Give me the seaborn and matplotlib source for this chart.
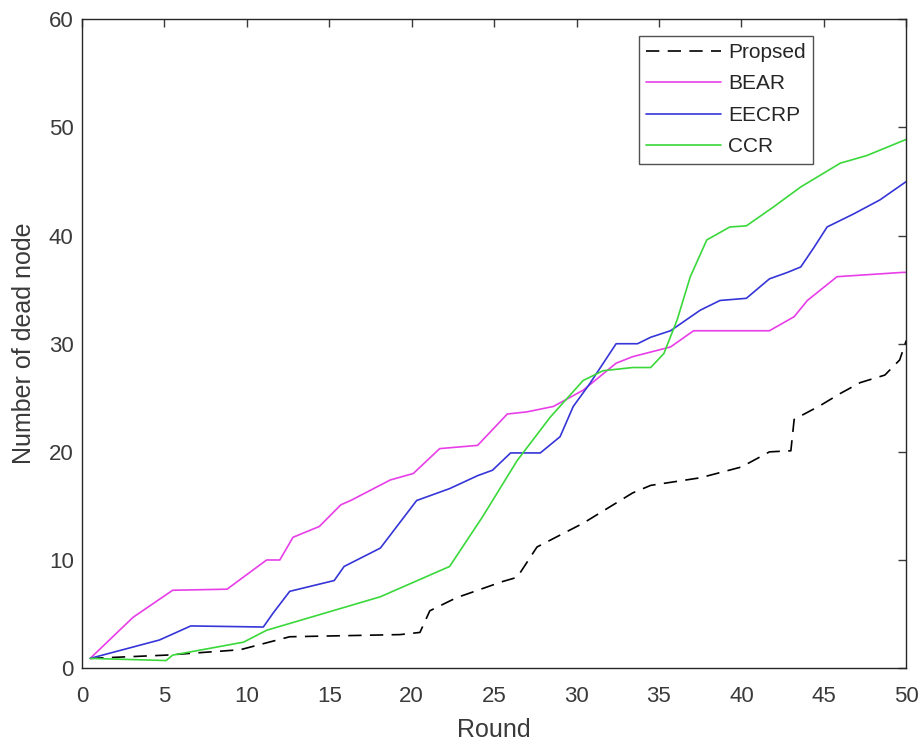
import matplotlib
matplotlib.use("Agg")
import matplotlib.pyplot as plt
import seaborn as sns

# Data
proposed_x = [0.5, 5.1, 9.6, 12.6, 19.3, 20.5, 21.1, 22.7, 25.5, 26.4, 27.6, 30.4, 33.4, 34.5,
              37.5, 40.0, 41.7, 43.0, 43.2, 44.8, 46.0, 47.2, 48.7, 49.6, 50.0]
proposed_y = [0.9, 1.2, 1.7, 2.9, 3.1, 3.3, 5.3, 6.5, 8.0, 8.4, 11.2, 13.4, 16.2, 16.9,
              17.6, 18.6, 20.0, 20.1, 23.0, 24.3, 25.4, 26.4, 27.1, 28.5, 30.3]

bear_x = [0.5, 3.1, 5.5, 8.8, 11.2, 12.0, 12.8, 14.4, 15.7, 16.3, 18.7, 20.1, 21.7, 24.0, 25.8,
          27.0, 28.6, 30.4, 32.4, 33.4, 35.7, 37.1, 41.7, 43.2, 44.0, 45.8, 49.8, 50.0]
bear_y = [0.9, 4.7, 7.2, 7.3, 10.0, 10.0, 12.1, 13.1, 15.1, 15.5, 17.4, 18.0, 20.3, 20.6, 23.5,
          23.7, 24.2, 25.7, 28.2, 28.8, 29.7, 31.2, 31.2, 32.5, 34.0, 36.2, 36.6, 36.6]

eecrp_x = [0.5, 4.7, 6.6, 11.0, 11.6, 12.6, 15.3, 15.9, 18.1, 20.3, 22.3, 24.0, 24.9, 26.0, 27.8,
           29.0, 29.8, 30.8, 32.4, 33.7, 34.5, 35.7, 37.5, 38.7, 40.3, 41.7, 42.8, 43.6, 44.4,
           45.2, 46.8, 48.4, 50.0]
eecrp_y = [0.9, 2.6, 3.9, 3.8, 5.1, 7.1, 8.1, 9.4, 11.1, 15.5, 16.6, 17.8, 18.3, 19.9, 19.9,
           21.4, 24.2, 26.3, 30.0, 30.0, 30.6, 31.2, 33.1, 34.0, 34.2, 36.0, 36.6, 37.1, 38.9,
           40.8, 42.0, 43.3, 45.0]

ccr_x = [0.5, 5.1, 5.5, 9.8, 11.2, 18.1, 22.3, 24.3, 26.4, 28.4, 30.4, 31.6, 33.4, 34.5, 35.3,
         36.1, 36.9, 37.9, 39.3, 40.3, 41.9, 43.6, 46.0, 47.6, 50.0]
ccr_y = [0.9, 0.7, 1.2, 2.4, 3.5, 6.6, 9.4, 14.0, 19.2, 23.2, 26.6, 27.5, 27.8, 27.8, 29.1,
         32.2, 36.2, 39.6, 40.8, 40.9, 42.6, 44.5, 46.7, 47.4, 48.9]

sns.set_style("white")
plt.rcParams["font.family"] = ["Liberation Sans", "DejaVu Sans"]

fig = plt.figure(figsize=(9.21, 7.44), dpi=100)
ax = fig.add_axes([0.089, 0.102, 0.895, 0.872])

sns.lineplot(x=proposed_x, y=proposed_y, ax=ax, color="black", lw=1.2,
             linestyle=(0, (8, 5)), label="Propsed")
sns.lineplot(x=bear_x, y=bear_y, ax=ax, color="#e83ee8", lw=1.2, label="BEAR")
sns.lineplot(x=eecrp_x, y=eecrp_y, ax=ax, color="#3535d8", lw=1.2, label="EECRP")
sns.lineplot(x=ccr_x, y=ccr_y, ax=ax, color="#3ad83a", lw=1.2, label="CCR")

ax.set_xlim(0, 50)
ax.set_ylim(0, 60)
ax.set_xticks(range(0, 51, 5))
ax.set_yticks(range(0, 61, 10))
ax.tick_params(direction="in", top=True, right=True, length=6, width=1,
               labelsize=16, colors="#3a3a3a")
ax.tick_params(axis="x", pad=13)
ax.tick_params(axis="y", pad=6)
for sp in ax.spines.values():
    sp.set_color("#262626")
    sp.set_linewidth(1)
ax.set_xlabel("Round", fontsize=18, color="#3a3a3a", labelpad=8)
ax.set_ylabel("Number of dead node", fontsize=18, color="#3a3a3a", labelpad=9)

leg = ax.legend(loc="upper right", bbox_to_anchor=(0.887, 0.975), fontsize=15,
                frameon=True, fancybox=False, edgecolor="#262626", handlelength=3.6,
                borderpad=0.35, labelspacing=0.6, handletextpad=0.35, borderaxespad=0)
leg.get_frame().set_linewidth(1)
for t in leg.get_texts():
    t.set_color("#262626")

fig.savefig("out.png", dpi=100)
